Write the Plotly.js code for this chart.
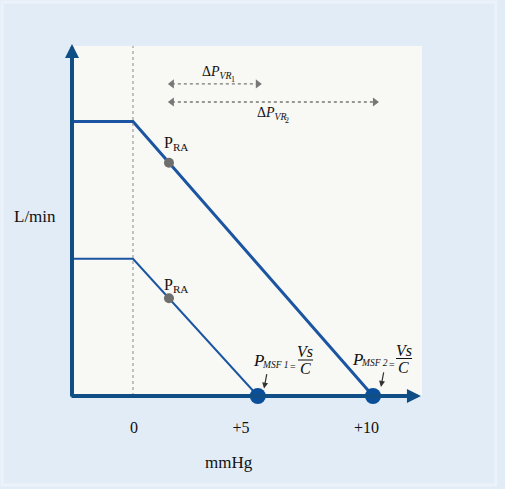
<!DOCTYPE html>
<html>
<head>
<meta charset="utf-8">
<script src="https://cdn.plot.ly/plotly-3.0.1.min.js"></script>
<style>html,body{margin:0;padding:0;background:#e2ecf7;}#chart{width:505px;height:489px;}</style>
</head>
<body>
<div id="chart"></div>
<script>
// ---- data ----
var xMin = -2.54, xMax = 12.04, yMax = 12.75;
var curve1X = [xMin, 0, 5.2];
var curve1Y = [5, 5, 0];
var curve2X = [xMin, 0, 10];
var curve2Y = [10, 10, 0];
var pmsfX = [5.2, 10];
var pmsfY = [0, 0];
var praX = [1.5, 1.5];
var praY = [8.5, 3.56];
var tickVals = [0.04, 4.5, 9.73];
var tickLabels = ['0', '+5', '+10'];
var dVR1X = [1.62, 5.2], dVR1Y = [11.37, 11.37];
var dVR2X = [1.62, 10.08], dVR2Y = [10.71, 10.71];

var blue = '#1b55a2', axisBlue = '#0f4f86', grey = '#777777', ink = '#111111';
var serif = 'Liberation Serif, serif';

var traces = [
  {x: curve2X, y: curve2Y, mode: 'lines', line: {color: blue, width: 3}, hoverinfo: 'skip'},
  {x: curve1X, y: curve1Y, mode: 'lines', line: {color: blue, width: 2}, hoverinfo: 'skip'},
  {x: praX, y: praY, mode: 'markers', marker: {color: '#6e6e6e', size: 10}, hoverinfo: 'skip'},
  {x: dVR1X, y: dVR1Y, mode: 'lines+markers', line: {color: grey, width: 1.3, dash: 'dot'},
   marker: {symbol: ['triangle-left', 'triangle-right'], size: 8, color: grey}, hoverinfo: 'skip'},
  {x: dVR2X, y: dVR2Y, mode: 'lines+markers', line: {color: grey, width: 1.3, dash: 'dot'},
   marker: {symbol: ['triangle-left', 'triangle-right'], size: 8, color: grey}, hoverinfo: 'skip'},
  {x: pmsfX, y: pmsfY, mode: 'markers', marker: {color: '#0b4f9a', size: 16}, hoverinfo: 'skip', cliponaxis: false}
];

// helpers converting reference pixel positions to data coords
function px(p) { return (p - 133) / 24; }
function py(p) { return (396 - p) / 27.45; }
function t(x, y, text, size, extra) {
  var a = {x: x, y: y, xref: 'x', yref: 'y', text: text, showarrow: false,
           xanchor: 'center', yanchor: 'middle',
           font: {family: serif, size: size, color: ink}};
  for (var k in (extra || {})) a[k] = extra[k];
  return a;
}

var annotations = [
  // axis arrows (paper coords so they are never hidden)
  {x: 0, y: 1.006, xref: 'paper', yref: 'paper', ax: 0, ay: 354, text: '',
   showarrow: true, arrowhead: 2, arrowsize: 0.7, arrowwidth: 4, arrowcolor: axisBlue},
  {x: 0.997, y: 0, xref: 'paper', yref: 'paper', ax: -351, ay: 0, text: '',
   showarrow: true, arrowhead: 2, arrowsize: 0.7, arrowwidth: 4, arrowcolor: axisBlue},
  // axis labels
  {x: -0.105, y: 0.514, xref: 'paper', yref: 'paper', xanchor: 'center', yanchor: 'middle',
   text: 'L/min', showarrow: false, font: {family: serif, size: 17, color: ink}},
  {x: 0.449, y: -0.189, xref: 'paper', yref: 'paper', xanchor: 'center', yanchor: 'middle',
   text: 'mmHg', showarrow: false, font: {family: serif, size: 17, color: ink}},
  // P_RA labels
  t(1.21, 9.2, 'P<sub>RA</sub>', 16, {xanchor: 'left'}),
  t(1.21, 4.02, 'P<sub>RA</sub>', 16, {xanchor: 'left'}),
  // delta P labels
  t(2.79, 11.8, 'Δ<i>P<sub>VR</sub></i>', 14, {xanchor: 'left'}),
  t(3.98, 11.52, '1', 8, {xanchor: 'left'}),
  t(5.08, 10.3, 'Δ<i>P<sub>VR</sub></i>', 14, {xanchor: 'left'}),
  t(6.27, 10.02, '2', 8, {xanchor: 'left'}),
  // PMSF 1
  t(px(251), py(360), '<i>P</i>', 17, {xanchor: 'left'}),
  t(px(260), py(365), '<i>MSF 1</i>', 9.5, {xanchor: 'left'}),
  t(px(293), py(366), '=', 10),
  t(px(305), py(351), '<i>Vs</i>', 16),
  t(px(305.5), py(368), '<i>C</i>', 16),
  // PMSF 2
  t(px(350), py(359), '<i>P</i>', 17, {xanchor: 'left'}),
  t(px(359), py(363), '<i>MSF 2</i>', 9.5, {xanchor: 'left'}),
  t(px(391.5), py(364), '=', 10),
  t(px(404), py(350), '<i>Vs</i>', 16),
  t(px(403.5), py(367), '<i>C</i>', 16),
  // small pointer arrows
  {x: 5.46, y: 0.27, ax: 3, ay: -16, text: '', showarrow: true, arrowhead: 2, arrowsize: 1, arrowwidth: 1.2, arrowcolor: '#333'},
  {x: 10.33, y: 0.33, ax: 3, ay: -16, text: '', showarrow: true, arrowhead: 2, arrowsize: 1, arrowwidth: 1.2, arrowcolor: '#333'}
];

var shapes = [
  {type: 'line', xref: 'x', yref: 'y', x0: 0, x1: 0, y0: 0, y1: yMax, line: {color: '#8a8a8a', width: 1, dash: 'dot'}},
  // fraction bars
  {type: 'line', xref: 'x', yref: 'y', x0: px(298), x1: px(313), y0: py(360), y1: py(360), line: {color: ink, width: 1}},
  {type: 'line', xref: 'x', yref: 'y', x0: px(396), x1: px(412), y0: py(358.5), y1: py(358.5), line: {color: ink, width: 1}},
  // faint frame
  {type: 'rect', xref: 'paper', yref: 'paper', x0: -0.2, x1: 1.211, y0: -0.254, y1: 1.126, line: {color: '#ecf2fa', width: 3}}
];

var layout = {
  width: 505, height: 489,
  margin: {l: 72, r: 83, t: 46, b: 93},
  paper_bgcolor: '#e2ecf7',
  plot_bgcolor: '#f8f8f4',
  showlegend: false,
  xaxis: {range: [xMin, xMax], showgrid: false, zeroline: false, showline: false,
          tickvals: tickVals, ticktext: tickLabels, ticks: 'outside', ticklen: 17, tickcolor: 'rgba(0,0,0,0)',
          tickfont: {family: serif, size: 16, color: ink}, fixedrange: true},
  yaxis: {range: [0, yMax], showgrid: false, zeroline: false, showline: false, showticklabels: false, fixedrange: true},
  annotations: annotations,
  shapes: shapes
};

Plotly.newPlot('chart', traces, layout, {displayModeBar: false, staticPlot: true});
</script>
</body>
</html>
